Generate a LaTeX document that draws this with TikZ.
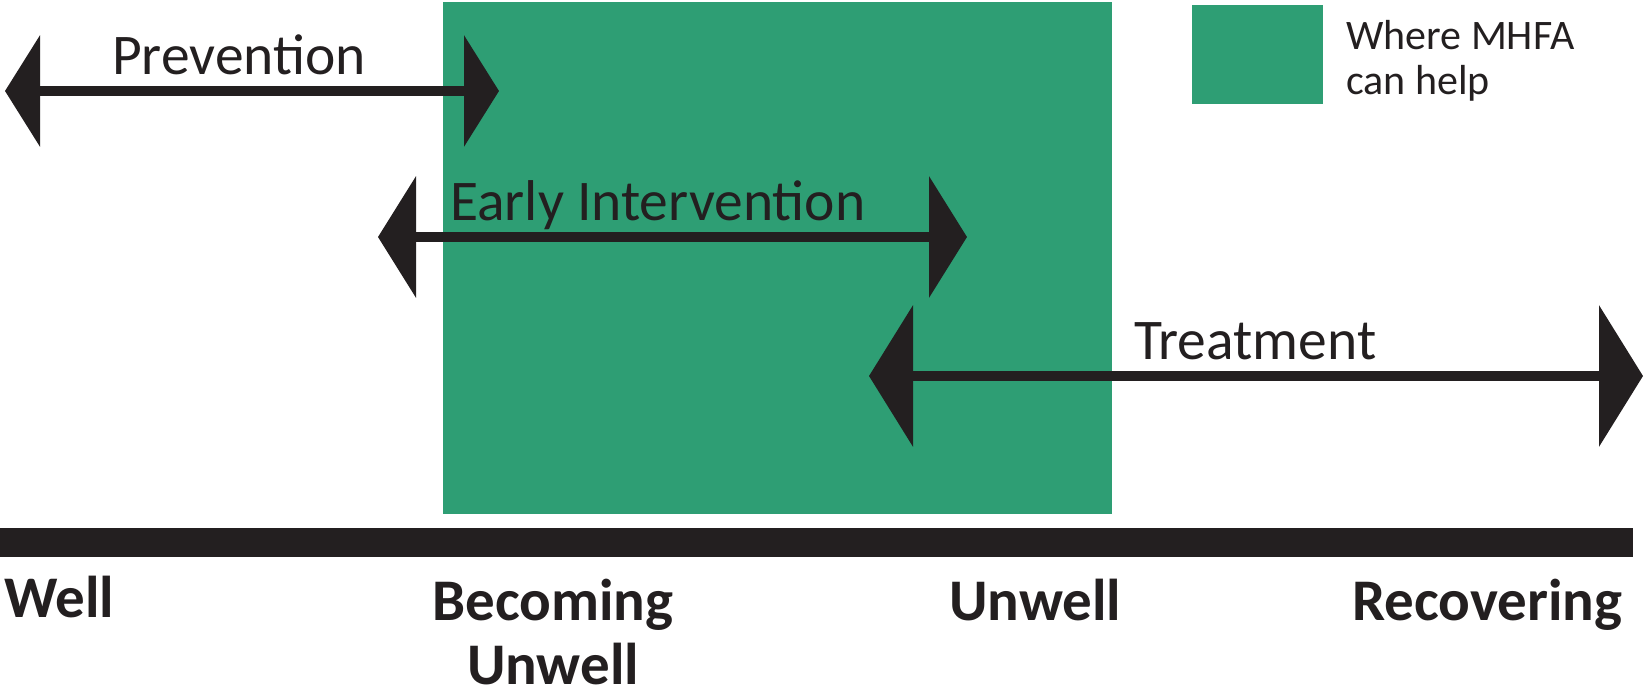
\documentclass[tikz,border=0pt]{standalone}
\usepackage{fontspec}
\setmainfont{Carlito}
\usetikzlibrary{arrows.meta}
\definecolor{mhfagreen}{RGB}{46,158,116}
\definecolor{ink}{RGB}{35,31,32}
\tikzset{
  arrline/.style={draw=ink, line width=9.5pt},
  spanlabel/.style={anchor=base west, inner sep=0pt, text=ink, font=\fontsize{57.5}{60}\selectfont},
  stagelabel/.style={anchor=base west, inner sep=0pt, text=ink, font=\fontsize{59}{68}\selectfont\bfseries},
  legendtext/.style={anchor=base west, inner sep=0pt, text=ink, font=\fontsize{42}{46}\selectfont},
}
\begin{document}
\begin{tikzpicture}[x=1pt,y=-1pt]
\useasboundingbox (0,0) rectangle (1644,695);
% green zone
\fill[mhfagreen] (443,2) rectangle (1112,514);
% legend
\fill[mhfagreen] (1192,5) rectangle (1323,104);
\node[legendtext] (leg1) at (1346,50) {Where MHFA};
\node[legendtext] (leg2) at (1346,95) {can help};
% timeline bar
\fill[ink] (0,528) rectangle (1633,557);
% arrows
\coordinate (pL) at (5,91);
\coordinate (pR) at (499,91);
\draw[arrline, {Triangle[length=35pt,width=110pt]}-{Triangle[length=35pt,width=110pt]}] (pL) -- (pR);
\coordinate (eL) at (378,237);
\coordinate (eR) at (967,237);
\draw[arrline, {Triangle[length=38pt,width=120pt]}-{Triangle[length=38pt,width=120pt]}] (eL) -- (eR);
\coordinate (tL) at (869,376);
\coordinate (tR) at (1643,376);
\draw[arrline, {Triangle[length=44pt,width=140pt]}-{Triangle[length=44pt,width=140pt]}] (tL) -- (tR);
% span labels
\node[spanlabel] (prev) at (112,75) {Prevention};
\node[spanlabel] (early) at (450,221) {Early Intervention};
\node[spanlabel] (treat) at (1134,359) {Treatment};
% stage labels
\node[stagelabel] (well) at (4,617) {Well};
\node[stagelabel, anchor=base] (becoming) at (553,620) {Becoming};
\node[stagelabel, anchor=base, text depth=0pt] (becoming2) at (553,684) {Unwell};
\node[stagelabel] (unwell) at (949,620) {Unwell};
\node[stagelabel] (recov) at (1352,620) {Recovering};
\end{tikzpicture}
\end{document}
